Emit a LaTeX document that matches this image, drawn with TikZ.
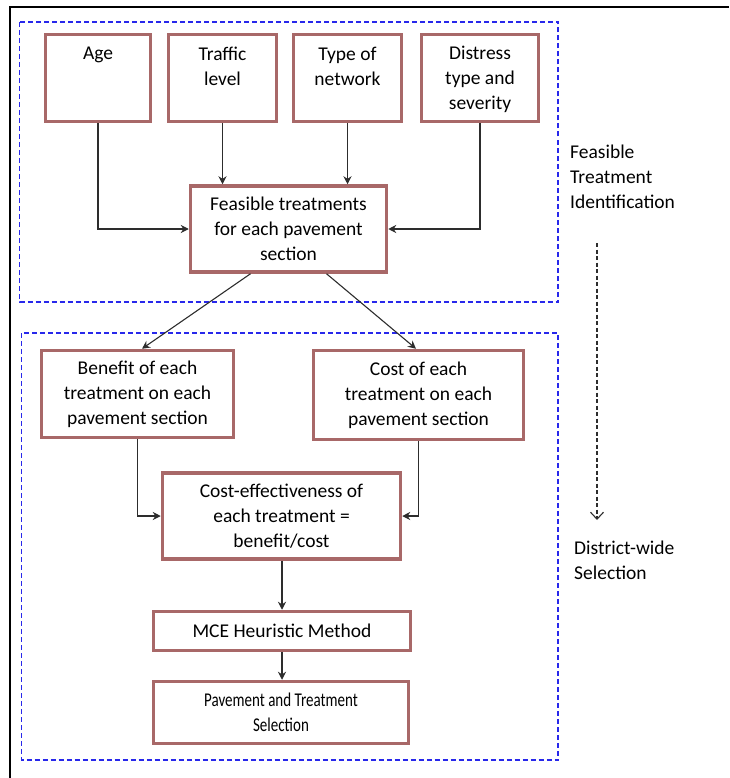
\documentclass[tikz,border=0pt]{standalone}
\usepackage{fontspec}
\setmainfont{Carlito}
\usepackage{graphicx}
\usetikzlibrary{arrows.meta}
\definecolor{boxred}{RGB}{168,104,104}
\definecolor{dashblue}{RGB}{40,40,235}
\definecolor{arrgray}{RGB}{45,45,45}
\tikzset{
  bx/.style={draw=boxred, line width=3.5pt, fill=white, inner sep=0pt, align=center,
    font=\fontsize{19.5}{25}\selectfont},
  txt/.style={inner sep=0pt, align=center, font=\fontsize{19.5}{25}\selectfont},
  side/.style={inner sep=0pt, align=left, anchor=north west, font=\fontsize{19.5}{25}\selectfont},
  arr/.style={draw=arrgray, line width=1.1pt, -{Stealth[length=8pt,width=8pt]}},
  grp/.style={draw=dashblue, line width=1.3pt, dash pattern=on 5pt off 3pt},
}
\begin{document}
\begin{tikzpicture}[x=1pt,y=-1pt]
\useasboundingbox (0,0) rectangle (729,778);
% outer frame
\draw[line width=1.5pt] (10,778) -- (10,7) -- (729,7);
% group boxes
\draw[grp] (19.5,22) rectangle (558,302);
\draw[grp] (21.5,333) rectangle (558,760);

% top input boxes
\node[bx, minimum width=105, minimum height=87] (age) at (98,78) {};
\node[bx, minimum width=108, minimum height=87] (traffic) at (222.5,78) {};
\node[bx, minimum width=108, minimum height=87] (type) at (347.5,78) {};
\node[bx, minimum width=117, minimum height=87] (distress) at (480,78) {};
\node[txt] (agel) at (98,55) {Age};
\node[txt] (trafficl) at (222.5,66.5) {Traffic\\level};
\node[txt] (typel) at (347.5,66.5) {Type of\\network};
\node[txt] (distressl) at (480,79.5) {Distress\\type and\\severity};

\node[bx, minimum width=196, minimum height=86] (feas) at (288.5,229) {Feasible treatments\\for each pavement\\section};

\node[bx, minimum width=192, minimum height=87] (ben) at (137.5,394) {Benefit of each\\treatment on each\\pavement section};
\node[bx, minimum width=210, minimum height=89] (cost) at (418.5,395) {Cost of each\\treatment on each\\pavement section};

\node[bx, minimum width=238, minimum height=86] (ce) at (281.5,516) {Cost-effectiveness of\\each treatment =\\benefit/cost};
\node[bx, minimum width=257, minimum height=39] (mce) at (282,631) {MCE Heuristic Method};
\node[bx, minimum width=255, minimum height=62] (sel) at (281,712.5) {\scalebox{0.77}[1]{Pavement and Treatment}\\\scalebox{0.77}[1]{Selection}};

% side labels
\node[side] (fti) at (570,145) {Feasible\\Treatment\\Identification};
\node[side] (dws) at (574,541) {District-wide\\Selection};
\coordinate (dtop) at (597,243);
\coordinate (dbot) at (597,520);
\draw[draw=arrgray, line width=1.1pt, dash pattern=on 4pt off 2.5pt, -{Straight Barb[length=7pt,width=13pt]}] (dtop) -- (dbot);

% connectors
\draw[arr] (age.south) |- (feas.west);
\draw[arr] (traffic.south) -- (traffic.south |- feas.north);
\draw[arr] (type.south) -- (type.south |- feas.north);
\draw[arr] (distress.south) |- (feas.east);
\draw[arr] ([xshift=-38pt]feas.south) -- ([xshift=4.5pt]ben.north);
\draw[arr] ([xshift=38pt]feas.south) -- ([xshift=-2.5pt]cost.north);
\draw[arr] (ben.south) |- (ce.west);
\draw[arr] (cost.south) |- (ce.east);
\draw[arr] (ce.south -| mce.north) -- (mce.north);
\draw[arr] (mce.south) -- (sel.north -| mce.south);
\end{tikzpicture}
\end{document}
